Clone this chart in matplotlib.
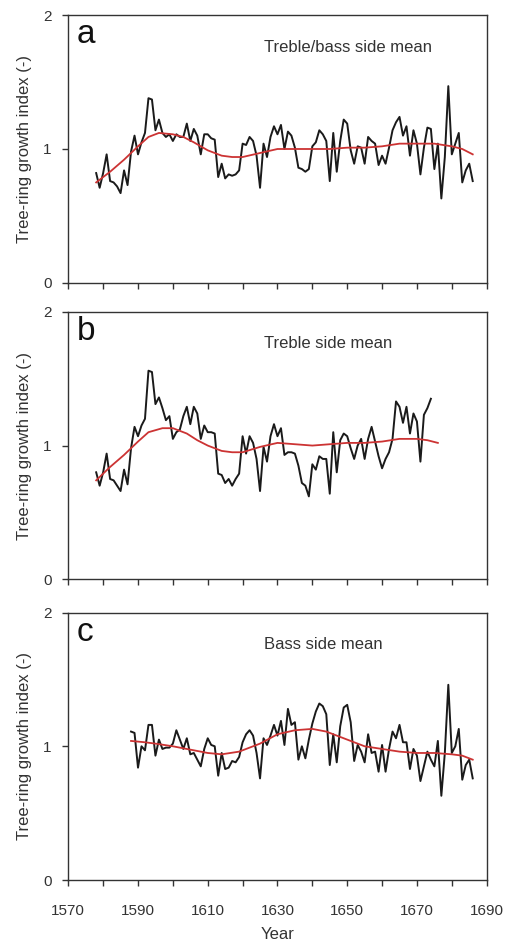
import matplotlib
matplotlib.use('Agg')
import matplotlib.pyplot as plt
import numpy as np

plt.rcParams['font.family'] = ['Liberation Sans', 'DejaVu Sans']

# Treble/bass side mean (1578-1686)
years_a = np.arange(1578, 1687)
ring_a = [0.82, 0.71, 0.82, 0.96, 0.76, 0.75, 0.72, 0.67, 0.84, 0.73,
          0.98, 1.10, 0.96, 1.05, 1.12, 1.38, 1.37, 1.14, 1.22, 1.12,
          1.09, 1.11, 1.06, 1.11, 1.09, 1.09, 1.19, 1.06, 1.15, 1.10,
          0.96, 1.11, 1.11, 1.08, 1.07, 0.79, 0.89, 0.78, 0.81, 0.80,
          0.81, 0.84, 1.04, 1.03, 1.09, 1.06, 0.95, 0.71, 1.04, 0.94,
          1.09, 1.17, 1.11, 1.18, 1.00, 1.13, 1.10, 1.01, 0.86, 0.85,
          0.83, 0.85, 1.02, 1.05, 1.14, 1.11, 1.06, 0.76, 1.12, 0.83,
          1.06, 1.22, 1.19, 0.99, 0.89, 1.02, 1.01, 0.89, 1.09, 1.06,
          1.04, 0.88, 0.95, 0.89, 1.01, 1.14, 1.20, 1.24, 1.10, 1.17,
          0.95, 1.14, 1.04, 0.81, 1.01, 1.16, 1.15, 0.85, 1.04, 0.63,
          0.94, 1.47, 0.96, 1.04, 1.12, 0.75, 0.84, 0.89, 0.76]
smooth_years_a = [1578, 1582, 1586, 1590, 1593, 1596, 1600, 1603, 1606, 1610,
                  1614, 1617, 1620, 1625, 1630, 1635, 1640, 1645, 1650, 1655,
                  1660, 1665, 1670, 1675, 1680, 1683, 1686]
smooth_a = [0.75, 0.83, 0.92, 1.02, 1.09, 1.12, 1.11, 1.09, 1.05, 0.99,
            0.95, 0.94, 0.94, 0.97, 1.00, 1.00, 1.00, 1.00, 1.01, 1.01,
            1.02, 1.04, 1.04, 1.04, 1.02, 1.00, 0.96]

# Treble side mean (1578-1674)
years_b = np.arange(1578, 1675)
ring_b = [0.80, 0.70, 0.80, 0.94, 0.75, 0.74, 0.70, 0.66, 0.82, 0.71,
          0.98, 1.14, 1.07, 1.15, 1.20, 1.56, 1.55, 1.31, 1.36, 1.28,
          1.19, 1.22, 1.05, 1.10, 1.12, 1.22, 1.29, 1.16, 1.29, 1.24,
          1.05, 1.15, 1.10, 1.10, 1.09, 0.79, 0.78, 0.72, 0.75, 0.70,
          0.75, 0.79, 1.07, 0.94, 1.07, 1.02, 0.90, 0.66, 0.99, 0.88,
          1.07, 1.16, 1.07, 1.13, 0.93, 0.95, 0.95, 0.94, 0.85, 0.72,
          0.70, 0.62, 0.86, 0.82, 0.92, 0.90, 0.90, 0.64, 1.10, 0.80,
          1.04, 1.09, 1.07, 0.98, 0.90, 1.00, 1.05, 0.90, 1.05, 1.14,
          1.03, 0.92, 0.83, 0.90, 0.95, 1.05, 1.33, 1.29, 1.17, 1.29,
          1.09, 1.24, 1.18, 0.88, 1.23, 1.28, 1.35]
smooth_years_b = [1578, 1582, 1586, 1590, 1593, 1597, 1600, 1604, 1607, 1610,
                  1614, 1617, 1620, 1625, 1630, 1635, 1640, 1645, 1650, 1655,
                  1660, 1665, 1670, 1673, 1676]
smooth_b = [0.74, 0.84, 0.93, 1.03, 1.10, 1.13, 1.13, 1.09, 1.04, 1.00,
            0.96, 0.95, 0.95, 0.99, 1.02, 1.01, 1.00, 1.01, 1.02, 1.02,
            1.03, 1.05, 1.05, 1.04, 1.02]

# Bass side mean (1588-1686)
years_c = np.arange(1588, 1687)
ring_c = [1.11, 1.10, 0.84, 1.00, 0.97, 1.16, 1.16, 0.93, 1.05, 0.98,
          0.99, 0.99, 1.02, 1.12, 1.05, 0.98, 1.06, 0.94, 0.95, 0.90,
          0.85, 0.98, 1.06, 1.01, 1.00, 0.78, 0.95, 0.83, 0.84, 0.89,
          0.88, 0.92, 1.03, 1.09, 1.12, 1.08, 0.95, 0.76, 1.06, 1.01,
          1.08, 1.16, 1.08, 1.19, 1.01, 1.28, 1.16, 1.18, 0.90, 1.00,
          0.91, 1.05, 1.17, 1.26, 1.32, 1.30, 1.24, 0.86, 1.09, 0.88,
          1.15, 1.29, 1.31, 1.18, 0.89, 1.01, 0.96, 0.88, 1.09, 0.95,
          0.96, 0.81, 1.01, 0.81, 0.98, 1.11, 1.06, 1.16, 1.03, 1.03,
          0.83, 0.98, 0.93, 0.74, 0.85, 0.96, 0.90, 0.85, 1.04, 0.63,
          0.95, 1.46, 0.95, 1.00, 1.13, 0.75, 0.86, 0.90, 0.76]
smooth_years_c = [1588, 1592, 1595, 1600, 1606, 1610, 1614, 1619, 1625, 1630,
                  1635, 1640, 1644, 1650, 1655, 1660, 1665, 1670, 1675, 1680,
                  1683, 1686]
smooth_c = [1.04, 1.03, 1.02, 1.00, 0.97, 0.95, 0.94, 0.96, 1.02, 1.09,
            1.12, 1.13, 1.11, 1.05, 1.00, 0.98, 0.96, 0.95, 0.95, 0.94,
            0.93, 0.90]

year_ticks = [1570, 1590, 1610, 1630, 1650, 1670, 1690]
year_minor = [1580, 1600, 1620, 1640, 1660, 1680]

panels = [
    ('a', 'Treble/bass side mean', years_a, ring_a, smooth_years_a, smooth_a),
    ('b', 'Treble side mean', years_b, ring_b, smooth_years_b, smooth_b),
    ('c', 'Bass side mean', years_c, ring_c, smooth_years_c, smooth_c),
]
bottoms = [0.7002, 0.3857, 0.0668]

txt_col = '#333333'
fig = plt.figure(figsize=(5.05, 9.43), dpi=100)

for (letter, title, yrs, vals, syrs, svals), b in zip(panels, bottoms):
    ax = fig.add_axes([0.1352, b, 0.8285, 0.2836])
    ax.plot(yrs, vals, color='#1a1a1a', lw=1.4)
    ax.plot(syrs, svals, color='#cc3333', lw=1.3)

    ax.set_xlim(1570, 1690)
    ax.set_ylim(0, 2)
    ax.set_xticks(year_ticks)
    ax.set_xticks(year_minor, minor=True)
    ax.set_yticks([0, 1, 2])
    ax.tick_params(axis='both', which='both', direction='out', length=4,
                   width=1, colors='#333333', labelcolor=txt_col, labelsize=11)
    ax.tick_params(axis='y', pad=8)
    ax.tick_params(axis='x', pad=13)
    for sp in ax.spines.values():
        sp.set_color('#333333')
        sp.set_linewidth(1)

    ax.set_ylabel('Tree-ring growth index (-)', fontsize=12, color=txt_col,
                  labelpad=8)
    ax.text(0.021, 0.895, letter, transform=ax.transAxes, fontsize=24,
            color='#111111', va='baseline', ha='left')
    ax.text(0.468, 0.88, title, transform=ax.transAxes, fontsize=12,
            color=txt_col, va='center', ha='left')

    if letter != 'c':
        ax.tick_params(axis='x', labelbottom=False)
    else:
        ax.set_xlabel('Year', fontsize=12, color=txt_col, labelpad=7)

fig.savefig('out.png', dpi=100)
